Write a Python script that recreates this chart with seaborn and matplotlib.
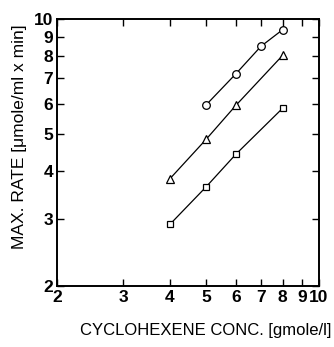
import matplotlib
matplotlib.use("Agg")
import matplotlib.pyplot as plt
import seaborn as sns
import pandas as pd
from matplotlib.ticker import FixedLocator, NullLocator, FixedFormatter

# Data (log-log axes)
conc_circle = [5, 6, 7, 8]
rate_circle = [5.97, 7.2, 8.5, 9.4]
conc_triangle = [4, 5, 6, 8]
rate_triangle = [3.82, 4.85, 5.95, 8.05]
conc_square = [4, 5, 6, 8]
rate_square = [2.9, 3.64, 4.43, 5.85]

tick_values = [2, 3, 4, 5, 6, 7, 8, 9, 10]
tick_labels = ["2", "3", "4", "5", "6", "7", "8", "9", "10"]

series = [
    ("circle", conc_circle, rate_circle, "o", 5.5),
    ("triangle", conc_triangle, rate_triangle, "^", 6.0),
    ("square", conc_square, rate_square, "s", 5.0),
]

sns.set_theme(style="ticks")
plt.rcParams["font.family"] = ["Liberation Sans", "DejaVu Sans"]

fig = plt.figure(figsize=(3.34, 3.47), dpi=100)
ax = fig.add_axes([0.171, 0.176, 0.784, 0.768])

for name, xs, ys, mk, ms in series:
    df = pd.DataFrame({"conc": xs, "rate": ys})
    sns.lineplot(data=df, x="conc", y="rate", ax=ax, color="black",
                 linewidth=0.9, marker=mk, markersize=ms,
                 markerfacecolor="white", markeredgecolor="black",
                 markeredgewidth=0.9, zorder=3)

ax.set_xscale("log")
ax.set_yscale("log")
ax.set_xlim(2, 10)
ax.set_ylim(2, 10)

for axis in (ax.xaxis, ax.yaxis):
    axis.set_major_locator(FixedLocator(tick_values))
    axis.set_major_formatter(FixedFormatter(tick_labels))
    axis.set_minor_locator(NullLocator())

ax.tick_params(axis="both", which="major", direction="in", length=5, width=1.0,
               top=True, right=True, labelsize=12.5, colors="black", pad=3)
for lab in ax.get_xticklabels() + ax.get_yticklabels():
    lab.set_fontweight("bold")

for sp in ax.spines.values():
    sp.set_linewidth(1.4)
    sp.set_color("black")

ax.set_xlabel("")
ax.set_ylabel("")

fig.text(20 / 334, 1 - 137 / 347, "MAX. RATE [μmole/ml x min]", rotation=90,
         ha="center", va="center", fontsize=12.5, color="black")
fig.text(0.616, 1 - 330 / 347, "CYCLOHEXENE CONC. [gmole/l]",
         ha="center", va="center", fontsize=12, color="black")

fig.savefig("out.png", dpi=100, facecolor="white")
